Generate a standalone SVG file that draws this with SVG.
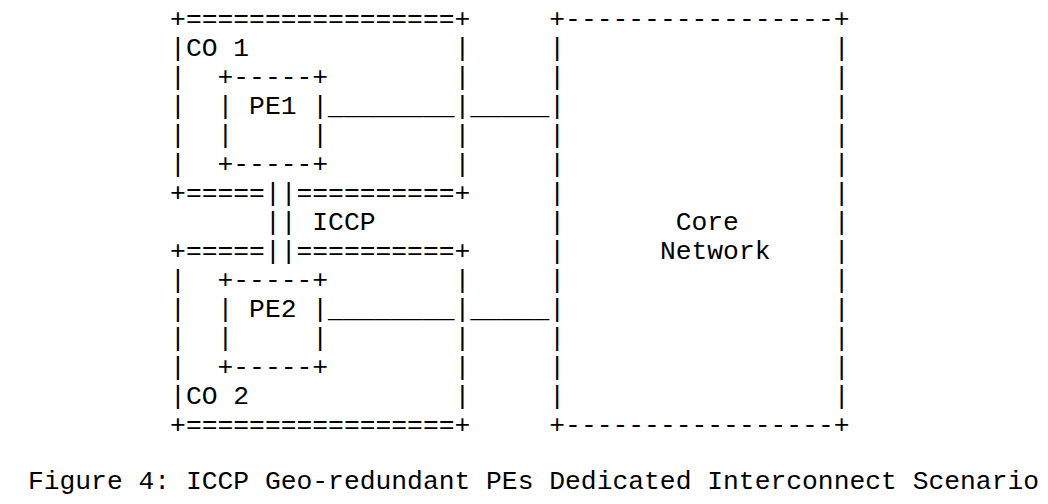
<svg xmlns="http://www.w3.org/2000/svg" width="1048" height="504" viewBox="0 0 1048 504" xml:space="preserve">
<style>
text{font-family:"Liberation Mono","Courier New",monospace;font-size:26.333px;fill:#000;white-space:pre}
</style>
<rect x="0" y="0" width="1048" height="504" fill="#fff"/>
<g id="co1">
<text x="170.1" y="26.5">+=================+</text>
<text x="170.1" y="55.57">|CO 1</text>
<text x="170.1" y="84.64">|</text>
<text x="170.1" y="113.71">|</text>
<text x="170.1" y="142.78">|</text>
<text x="170.1" y="171.85">|</text>
<text x="454.5" y="55.57">|</text>
<text x="454.5" y="84.64">|</text>
<text x="454.5" y="113.71">|</text>
<text x="454.5" y="142.78">|</text>
<text x="454.5" y="171.85">|</text>
<text x="170.1" y="200.92">+=====</text>
<text x="296.5" y="200.92">==========+</text>
</g>
<g id="co2">
<text x="170.1" y="259.06">+=====</text>
<text x="296.5" y="259.06">==========+</text>
<text x="170.1" y="288.13">|</text>
<text x="170.1" y="317.2">|</text>
<text x="170.1" y="346.27">|</text>
<text x="170.1" y="375.34">|</text>
<text x="170.1" y="404.41">|CO 2</text>
<text x="454.5" y="288.13">|</text>
<text x="454.5" y="317.2">|</text>
<text x="454.5" y="346.27">|</text>
<text x="454.5" y="375.34">|</text>
<text x="454.5" y="404.41">|</text>
<text x="170.1" y="433.48">+=================+</text>
</g>
<g id="pe1">
<text x="217.5" y="84.64">+-----+</text>
<text x="217.5" y="113.71">|</text>
<text x="249.1" y="113.71">PE1</text>
<text x="312.3" y="113.71">|</text>
<text x="217.5" y="142.78">|</text>
<text x="312.3" y="142.78">|</text>
<text x="217.5" y="171.85">+-----+</text>
</g>
<g id="pe2">
<text x="217.5" y="288.13">+-----+</text>
<text x="217.5" y="317.2">|</text>
<text x="249.1" y="317.2">PE2</text>
<text x="312.3" y="317.2">|</text>
<text x="217.5" y="346.27">|</text>
<text x="312.3" y="346.27">|</text>
<text x="217.5" y="375.34">+-----+</text>
</g>
<g id="core">
<text x="549.3" y="26.5">+-----------------+</text>
<text x="549.3" y="55.57">|</text>
<text x="549.3" y="84.64">|</text>
<text x="549.3" y="113.71">|</text>
<text x="549.3" y="142.78">|</text>
<text x="549.3" y="171.85">|</text>
<text x="549.3" y="200.92">|</text>
<text x="549.3" y="229.99">|</text>
<text x="549.3" y="259.06">|</text>
<text x="549.3" y="288.13">|</text>
<text x="549.3" y="317.2">|</text>
<text x="549.3" y="346.27">|</text>
<text x="549.3" y="375.34">|</text>
<text x="549.3" y="404.41">|</text>
<text x="833.7" y="55.57">|</text>
<text x="833.7" y="84.64">|</text>
<text x="833.7" y="113.71">|</text>
<text x="833.7" y="142.78">|</text>
<text x="833.7" y="171.85">|</text>
<text x="833.7" y="200.92">|</text>
<text x="833.7" y="229.99">|</text>
<text x="833.7" y="259.06">|</text>
<text x="833.7" y="288.13">|</text>
<text x="833.7" y="317.2">|</text>
<text x="833.7" y="346.27">|</text>
<text x="833.7" y="375.34">|</text>
<text x="833.7" y="404.41">|</text>
<text x="549.3" y="433.48">+-----------------+</text>
<text x="675.7" y="229.99">Core</text>
<text x="659.9" y="259.06">Network</text>
</g>
<g id="connectors">
<text x="328.1" y="113.71">________</text>
<text x="470.3" y="113.71">_____</text>
<text x="328.1" y="317.2">________</text>
<text x="470.3" y="317.2">_____</text>
<text x="264.9" y="200.92">||</text>
<text x="264.9" y="229.99">||</text>
<text x="264.9" y="259.06">||</text>
<text x="312.3" y="229.99">ICCP</text>
</g>
<g id="caption">
<text x="27.9" y="489">Figure 4: ICCP Geo-redundant PEs Dedicated Interconnect Scenario</text>
</g>
</svg>
